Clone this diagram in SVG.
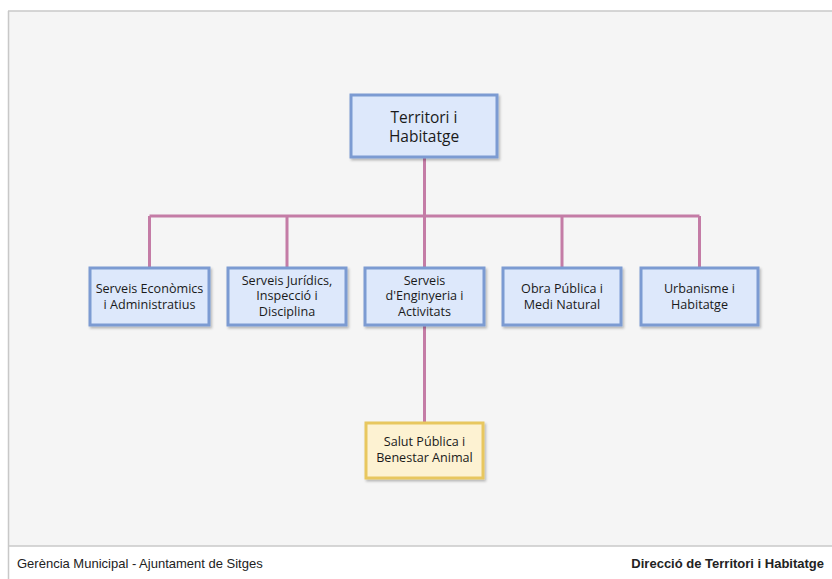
<svg xmlns="http://www.w3.org/2000/svg" width="832" height="579" viewBox="0 0 832 579">
<defs>
<filter id="sh" x="-10%" y="-10%" width="130%" height="140%">
<feDropShadow dx="1.5" dy="2" stdDeviation="1.2" flood-color="#000" flood-opacity="0.25"/>
</filter>
</defs>
<style>
.box{fill:#dde8fb;stroke:#7b9bd2;stroke-width:3;filter:url(#sh)}
.ybox{fill:#fdf2d2;stroke:#e8c75e;stroke-width:3;filter:url(#sh)}
.t{font-family:"Open Sans","Noto Sans",sans-serif;font-size:12.6px;fill:#1a1a1a;text-anchor:middle}
.tl{font-family:"Open Sans","Noto Sans",sans-serif;font-size:15.5px;fill:#1a1a1a;text-anchor:middle}
.c{stroke:#c47ca6;stroke-width:3;fill:none}
.ft{font-family:"Liberation Sans",Arial,sans-serif;font-size:13px;fill:#222}
</style>
<rect x="0" y="0" width="832" height="579" fill="#fff"/>
<rect x="8" y="11" width="826" height="535" fill="#f5f5f5"/>
<line x1="8" y1="11" x2="832" y2="11" stroke="#c8c8c8" stroke-width="1.5"/>
<line x1="8.5" y1="11" x2="8.5" y2="579" stroke="#c8c8c8" stroke-width="1.5"/>
<line x1="8" y1="546" x2="832" y2="546" stroke="#c8c8c8" stroke-width="1.5"/>
<g id="connectors">
<path class="c" d="M424.5 157V216M149.5 216H699.5M149.5 216V268M287 216V268M424.5 216V268M562 216V268M699.5 216V268M424.5 325V423"/>
</g>
<g id="n0"><rect class="box" x="351" y="95" width="146" height="62"/><text class="tl" x="424" y="123">Territori i</text><text class="tl" x="424" y="142">Habitatge</text></g>
<g id="n1"><rect class="box" x="90" y="268" width="119" height="57"/><text class="t" x="149.5" y="293">Serveis Econòmics</text><text class="t" x="149.5" y="309">i Administratius</text></g>
<g id="n2"><rect class="box" x="228" y="268" width="118" height="57"/><text class="t" x="287" y="285">Serveis Jurídics,</text><text class="t" x="287" y="300">Inspecció i</text><text class="t" x="287" y="316">Disciplina</text></g>
<g id="n3"><rect class="box" x="365" y="268" width="119" height="57"/><text class="t" x="424.5" y="285">Serveis</text><text class="t" x="424.5" y="300">d'Enginyeria i</text><text class="t" x="424.5" y="316">Activitats</text></g>
<g id="n4"><rect class="box" x="503" y="268" width="118" height="57"/><text class="t" x="562" y="293">Obra Pública i</text><text class="t" x="562" y="309">Medi Natural</text></g>
<g id="n5"><rect class="box" x="641" y="268" width="117" height="57"/><text class="t" x="699.5" y="293">Urbanisme i</text><text class="t" x="699.5" y="309">Habitatge</text></g>
<g id="n6"><rect class="ybox" x="366" y="423" width="117" height="55"/><text class="t" x="424.5" y="446">Salut Pública i</text><text class="t" x="424.5" y="462">Benestar Animal</text></g>
<text class="ft" x="17" y="568">Gerència Municipal - Ajuntament de Sitges</text>
<text class="ft" x="824" y="568" text-anchor="end" font-weight="bold">Direcció de Territori i Habitatge</text>
</svg>
